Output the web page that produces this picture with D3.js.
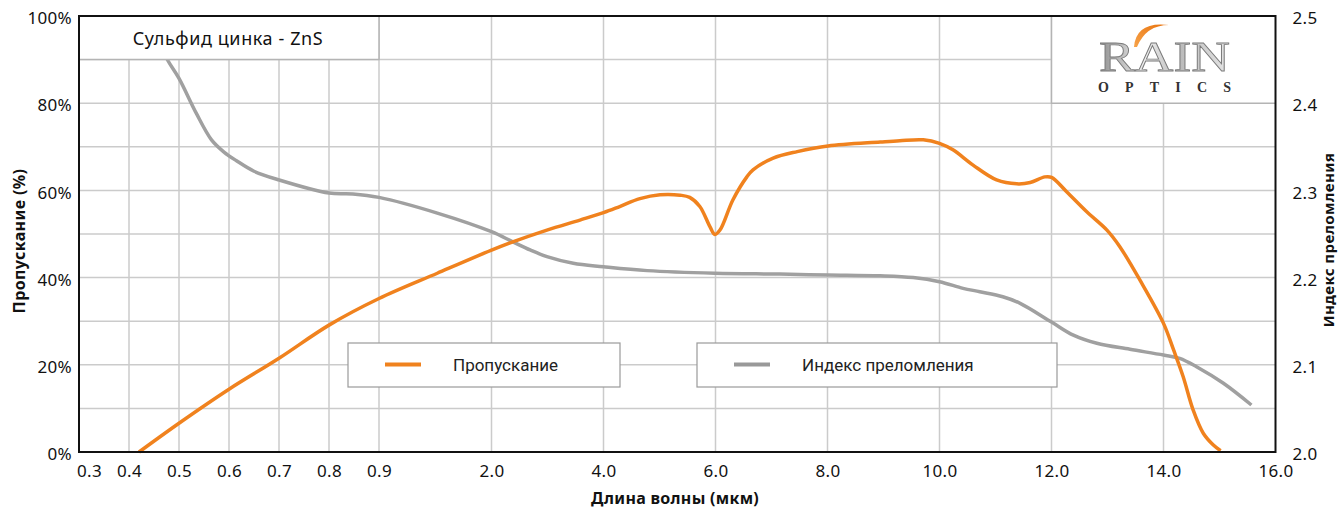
<!DOCTYPE html>
<html>
<head>
<meta charset="utf-8">
<script src="https://cdn.jsdelivr.net/npm/d3@7"></script>
<style>
  body { margin: 0; background: #fff; }
  svg { display: block; }
  text { font-family: "Noto Sans", sans-serif; fill: #111; }
</style>
</head>
<body>
<svg></svg>
<script>
// wavelength ticks (piecewise axis) and their labels
var waveTicks = [0.3, 0.4, 0.5, 0.6, 0.7, 0.8, 0.9, 2, 4, 6, 8, 10, 12, 14, 16];
var waveLabels = ['0.3', '0.4', '0.5', '0.6', '0.7', '0.8', '0.9', '2.0', '4.0', '6.0', '8.0', '10.0', '12.0', '14.0', '16.0'];
var pctTicks = [0, 20, 40, 60, 80, 100];
var indexTicks = [2.0, 2.1, 2.2, 2.3, 2.4, 2.5];

// transmission, %
var transWave = [0.42, 0.50, 0.60, 0.70, 0.80, 0.90, 1.47, 2.0, 2.38, 2.99, 3.58, 4.0, 4.29, 4.65, 5.01, 5.37, 5.54, 5.72, 5.90, 5.99, 6.08, 6.31, 6.56, 6.67, 7.03, 7.46, 8.01, 8.94, 9.29, 9.71, 10.0, 10.24, 10.60, 11.02, 11.38, 11.62, 11.88, 12.0, 12.27, 12.63, 12.99, 13.22, 13.58, 14.0, 14.18, 14.35, 14.53, 14.71, 14.89, 15.02];
var transVal = [0, 6.6, 14.4, 21.5, 29.1, 35.2, 41.0, 46.3, 48.2, 50.9, 53.2, 54.9, 56.3, 58.1, 59.0, 58.9, 58.4, 56.3, 51.7, 49.9, 50.9, 57.8, 63.1, 64.7, 67.4, 68.9, 70.2, 71.1, 71.4, 71.6, 70.8, 69.3, 65.8, 62.4, 61.5, 61.8, 63.1, 63.0, 59.7, 55.1, 50.9, 47.1, 39.4, 29.5, 23.4, 17.3, 9.6, 4.3, 1.6, 0.3];

// refractive index
var indexWave = [0.46, 0.478, 0.50, 0.535, 0.565, 0.59, 0.615, 0.65, 0.70, 0.80, 0.848, 0.90, 1.47, 2.0, 2.38, 2.69, 2.99, 3.46, 4.0, 4.78, 5.99, 7.15, 8.01, 8.94, 9.53, 10.0, 10.42, 10.72, 11.13, 11.44, 12.0, 12.39, 12.81, 13.40, 14.0, 14.29, 14.59, 15.07, 15.57];
var indexVal = [2.47, 2.4487, 2.4285, 2.388, 2.358, 2.344, 2.334, 2.322, 2.312, 2.297, 2.296, 2.292, 2.274, 2.2526, 2.241, 2.2317, 2.224, 2.2164, 2.2125, 2.208, 2.205, 2.204, 2.203, 2.202, 2.200, 2.1953, 2.1877, 2.1838, 2.178, 2.1705, 2.149, 2.134, 2.1247, 2.1178, 2.1112, 2.1074, 2.0978, 2.0788, 2.0539];

var width = 1341;
var height = 508;
var orange = '#f0821e';
var grey = '#a0a0a0';
var gridColor = '#cbcbcb';

var svg = d3.select('svg')
    .attr('width', width)
    .attr('height', height);

var x = d3.scaleLinear()
    .domain([0.3, 0.9, 2, 16])
    .range([79, 379, 491.5, 1275.5]);
var yL = d3.scaleLinear().domain([0, 100]).range([452, 16]);
var yR = d3.scaleLinear().domain([2.0, 2.5]).range([452, 16]);

// grid
var grid = svg.append('g');
grid.selectAll('.hg')
    .data(d3.range(10, 100, 10))
    .enter().append('line')
    .attr('x1', x(0.3)).attr('x2', x(16))
    .attr('y1', d => yL(d)).attr('y2', d => yL(d))
    .attr('stroke', gridColor).attr('stroke-width', 1.5);
grid.selectAll('.vg')
    .data(waveTicks.slice(1, -1))
    .enter().append('line')
    .attr('x1', d => x(d)).attr('x2', d => x(d))
    .attr('y1', yL(0)).attr('y2', yL(100))
    .attr('stroke', gridColor).attr('stroke-width', 1.5);

// curves
var transLine = d3.line()
    .x(d => x(d[0]))
    .y(d => yL(d[1]))
    .curve(d3.curveCatmullRom.alpha(0.5));
var indexLine = d3.line()
    .x(d => x(d[0]))
    .y(d => yR(d[1]))
    .curve(d3.curveCatmullRom.alpha(0.5));

svg.append('path')
    .datum(indexWave.map((w, i) => [w, indexVal[i]]))
    .attr('d', indexLine)
    .attr('fill', 'none')
    .attr('stroke', grey)
    .attr('stroke-width', 3.5);
svg.append('path')
    .datum(transWave.map((w, i) => [w, transVal[i]]))
    .attr('d', transLine)
    .attr('fill', 'none')
    .attr('stroke', orange)
    .attr('stroke-width', 3.5);

// title box
svg.append('rect')
    .attr('x', x(0.3)).attr('y', yL(100))
    .attr('width', x(0.9) - x(0.3)).attr('height', yL(90) - yL(100))
    .attr('fill', '#fff');
svg.append('path')
    .attr('d', `M${x(0.3)},${yL(90)}H${x(0.9)}V${yL(100)}`)
    .attr('fill', 'none').attr('stroke', '#b4b4b4').attr('stroke-width', 1.5);
svg.append('text')
    .attr('x', (x(0.3) + x(0.9)) / 2 - 1)
    .attr('y', 45)
    .attr('text-anchor', 'middle')
    .style('font-size', '18px')
    .style('letter-spacing', '0.6px')
    .text('Сульфид цинка - ZnS');

// logo box
svg.append('rect')
    .attr('x', x(12)).attr('y', yL(100))
    .attr('width', x(16) - x(12)).attr('height', yL(80) - yL(100))
    .attr('fill', '#fff');
svg.append('path')
    .attr('d', `M${x(12)},${yL(100)}V${yL(80)}H${x(16)}`)
    .attr('fill', 'none').attr('stroke', '#b4b4b4').attr('stroke-width', 1.5);

var defs = svg.append('defs');
var silver = defs.append('linearGradient')
    .attr('id', 'silver').attr('x1', 0).attr('y1', 0).attr('x2', 1).attr('y2', 0);
silver.append('stop').attr('offset', '0%').attr('stop-color', '#8e8e8e');
silver.append('stop').attr('offset', '35%').attr('stop-color', '#f2f2f2');
silver.append('stop').attr('offset', '60%').attr('stop-color', '#b8b8b8');
silver.append('stop').attr('offset', '100%').attr('stop-color', '#e6e6e6');
var arcGrad = defs.append('linearGradient')
    .attr('id', 'arcg').attr('x1', 0).attr('y1', 1).attr('x2', 1).attr('y2', 0);
arcGrad.append('stop').attr('offset', '0%').attr('stop-color', '#f7a34a');
arcGrad.append('stop').attr('offset', '100%').attr('stop-color', '#e8720c');

var logo = svg.append('g');
logo.append('path')
    .attr('d', 'M1134,47 Q1136,21 1169,25 Q1146,25 1137,47 Z')
    .attr('fill', 'url(#arcg)');
logo.append('text')
    .attr('x', 1099).attr('y', 71)
    .attr('textLength', 131).attr('lengthAdjust', 'spacingAndGlyphs')
    .style('font-family', '"Liberation Serif", "DejaVu Serif", serif')
    .style('font-size', '43px')
    .style('fill', 'url(#silver)')
    .style('stroke', '#7a7a7a').style('stroke-width', 0.8)
    .text('RAIN');
logo.append('text')
    .attr('x', 1098).attr('y', 92)
    .attr('textLength', 133).attr('lengthAdjust', 'spacing')
    .style('font-family', '"Liberation Serif", "DejaVu Serif", serif')
    .style('font-size', '14px').style('font-weight', 'bold')
    .style('fill', '#333')
    .text('OPTICS');

// frame
svg.append('rect')
    .attr('x', x(0.3)).attr('y', yL(100))
    .attr('width', x(16) - x(0.3)).attr('height', yL(0) - yL(100))
    .attr('fill', 'none').attr('stroke', '#111').attr('stroke-width', 2);

// axes
var xAxis = d3.axisBottom(x)
    .tickValues(waveTicks)
    .tickFormat((d, i) => waveLabels[i])
    .tickSize(0).tickPadding(13);
var gx = svg.append('g')
    .attr('transform', `translate(0,${yL(0)})`)
    .call(xAxis);
gx.selectAll('text').filter((d, i) => i === 0).attr('dx', 10);

var yAxisL = d3.axisLeft(yL)
    .tickValues(pctTicks)
    .tickFormat(d => d + '%')
    .tickSize(0).tickPadding(7);
var gl = svg.append('g')
    .attr('transform', `translate(${x(0.3)},0)`)
    .call(yAxisL);
gl.selectAll('text').attr('dy', '0.45em');

var yAxisR = d3.axisRight(yR)
    .tickValues(indexTicks)
    .tickFormat(d3.format('.1f'))
    .tickSize(0).tickPadding(17);
var gr = svg.append('g')
    .attr('transform', `translate(${x(16)},0)`)
    .call(yAxisR);
gr.selectAll('text').attr('dy', '0.45em');

[gx, gl, gr].forEach(g => {
    g.select('.domain').remove();
    g.selectAll('text')
        .attr('fill', '#111')
        .style('font-family', '"Noto Sans", sans-serif')
        .style('font-size', '17px')
        .style('letter-spacing', '0.3px');
});

// axis titles
svg.append('text')
    .attr('x', 675)
    .attr('y', 504)
    .attr('text-anchor', 'middle')
    .style('font-size', '16px').style('font-weight', 'bold')
    .style('letter-spacing', '0.3px')
    .text('Длина волны (мкм)');
svg.append('text')
    .attr('transform', 'translate(25,241) rotate(-90)')
    .attr('text-anchor', 'middle')
    .style('font-size', '16px').style('font-weight', 'bold')
    .style('letter-spacing', '0.4px')
    .text('Пропускание (%)');
svg.append('text')
    .attr('transform', 'translate(1334,240) rotate(-90)')
    .attr('text-anchor', 'middle')
    .style('font-size', '15px').style('font-weight', 'bold')
    .style('letter-spacing', '0.4px')
    .text('Индекс преломления');

// legend
var legendItems = [
    { name: 'Пропускание', color: orange, x0: 348, x1: 620 },
    { name: 'Индекс преломления', color: '#999', x0: 697, x1: 1057 }
];
var lg = svg.selectAll('.legend')
    .data(legendItems)
    .enter().append('g')
    .attr('transform', d => `translate(${d.x0},343)`);
lg.append('rect')
    .attr('width', d => d.x1 - d.x0).attr('height', 44)
    .attr('fill', '#fff').attr('stroke', '#9a9a9a').attr('stroke-width', 1.2);
lg.append('line')
    .attr('x1', 37).attr('x2', 73)
    .attr('y1', 21.5).attr('y2', 21.5)
    .attr('stroke', d => d.color).attr('stroke-width', 4);
lg.append('text')
    .attr('x', 105).attr('y', 27.5)
    .style('font-family', 'Roboto, sans-serif')
    .style('font-size', '17px')
    .style('fill', '#222')
    .text(d => d.name);
</script>
</body>
</html>
